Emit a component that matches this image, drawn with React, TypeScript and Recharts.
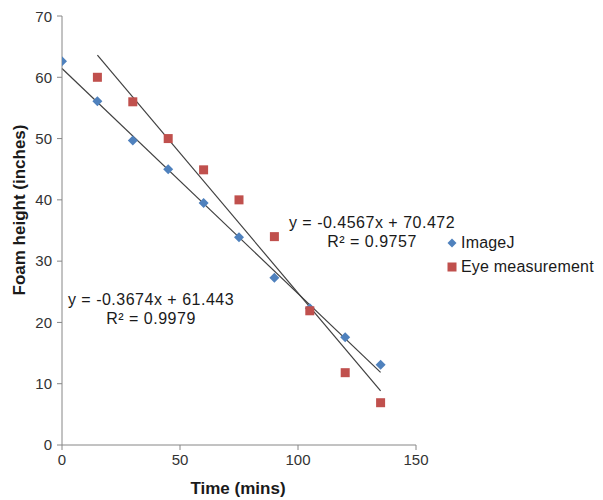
import React from "react";
import {
  ScatterChart,
  Scatter,
  XAxis,
  YAxis,
  ReferenceLine,
  Legend,
} from "recharts";

const imageJTimes = [0, 15, 30, 45, 60, 75, 90, 105, 120, 135];
const imageJHeights = [62.6, 56.1, 49.7, 45.0, 39.5, 33.9, 27.3, 22.3, 17.6, 13.1];
const eyeTimes = [15, 30, 45, 60, 75, 90, 105, 120, 135];
const eyeHeights = [60.0, 56.0, 50.0, 44.9, 40.0, 34.0, 21.9, 11.8, 6.9];

const xTicks = [0, 50, 100, 150];
const yTicks = [0, 10, 20, 30, 40, 50, 60, 70];

const imageJFit = { slope: -0.3674, intercept: 61.443, r2: 0.9979, from: 0, to: 135 };
const eyeFit = { slope: -0.4567, intercept: 70.472, r2: 0.9757, from: 15, to: 135 };

const imageJData = imageJTimes.map((t, i) => ({ x: t, y: imageJHeights[i] }));
const eyeData = eyeTimes.map((t, i) => ({ x: t, y: eyeHeights[i] }));

const BLUE = "#4F81BD";
const RED = "#C0504D";
const AXIS = "#868686";
const FONT = "'Liberation Sans', Arial, sans-serif";

const Diamond = (props: any) => {
  const { cx, cy } = props;
  const r = 5;
  return (
    <path
      d={`M${cx},${cy - r}L${cx + r},${cy}L${cx},${cy + r}L${cx - r},${cy}Z`}
      fill={BLUE}
    />
  );
};

const Square = (props: any) => {
  const { cx, cy } = props;
  const s = 9;
  return <rect x={cx - s / 2} y={cy - s / 2} width={s} height={s} fill={RED} />;
};

const seg = (f: typeof imageJFit) => [
  { x: f.from, y: f.slope * f.from + f.intercept },
  { x: f.to, y: f.slope * f.to + f.intercept },
];

const eqText = (f: typeof imageJFit) =>
  `y = ${f.slope.toFixed(4)}x + ${f.intercept.toFixed(3)}`;

const LegendContent = () => (
  <div
    style={{
      fontFamily: FONT,
      fontSize: 16,
      color: "#1a1a1a",
      letterSpacing: 0.2,
      whiteSpace: "nowrap",
    }}
  >
    <div style={{ display: "flex", alignItems: "center", height: 24 }}>
      <svg width={10} height={10} style={{ marginRight: 4 }}>
        <path d="M5,0.5L9.5,5L5,9.5L0.5,5Z" fill={BLUE} />
      </svg>
      <span>ImageJ</span>
    </div>
    <div style={{ display: "flex", alignItems: "center", height: 24 }}>
      <svg width={10} height={10} style={{ marginRight: 4 }}>
        <rect x={0.5} y={0.5} width={9} height={9} fill={RED} />
      </svg>
      <span>Eye measurement</span>
    </div>
  </div>
);

export default function App() {
  const W = 595;
  const H = 492;
  const textStyle = { fontFamily: FONT, fill: "#1a1a1a" } as const;
  return (
    <div style={{ position: "relative", width: W, height: H }}>
      <ScatterChart
        width={W}
        height={H}
        margin={{ top: 8, right: 187, bottom: 25, left: 14 }}
      >
        <XAxis
          type="number"
          dataKey="x"
          domain={[0, 150]}
          ticks={xTicks}
          height={30}
          stroke={AXIS}
          tickLine={{ stroke: AXIS }}
          tickSize={5}
          tickMargin={4}
          tick={{ fill: "#333", fontSize: 15, fontFamily: FONT }}
          allowDataOverflow
        />
        <YAxis
          type="number"
          dataKey="y"
          domain={[0, 70]}
          ticks={yTicks}
          width={40}
          stroke={AXIS}
          tickLine={{ stroke: AXIS }}
          tickSize={5}
          tickMargin={5}
          tick={{ fill: "#333", fontSize: 15, fontFamily: FONT }}
          allowDataOverflow
        />
        <ReferenceLine
          segment={seg(imageJFit)}
          stroke="#404040"
          strokeWidth={1.2}
          ifOverflow="visible"
        />
        <ReferenceLine
          segment={seg(eyeFit)}
          stroke="#404040"
          strokeWidth={1.2}
          ifOverflow="visible"
        />
        <Scatter
          name="ImageJ"
          data={imageJData}
          shape={<Diamond />}
          isAnimationActive={false}
        />
        <Scatter
          name="Eye measurement"
          data={eyeData}
          shape={<Square />}
          isAnimationActive={false}
        />
        <Legend
          layout="vertical"
          align="center"
          verticalAlign="middle"
          content={<LegendContent />}
          wrapperStyle={{ position: "absolute", left: 439, top: 223, width: 156 }}
        />
      </ScatterChart>
      <svg
        width={W}
        height={H}
        style={{ position: "absolute", left: 0, top: 0, pointerEvents: "none" }}
      >
        <text
          {...textStyle}
          x={364}
          y={220}
          fontSize={16}
          letterSpacing={0.5}
          textAnchor="middle"
        >
          {eqText(eyeFit)}
        </text>
        <text
          {...textStyle}
          x={364}
          y={239}
          fontSize={16}
          letterSpacing={0.5}
          textAnchor="middle"
        >
          {`R² = ${eyeFit.r2}`}
        </text>
        <text
          {...textStyle}
          x={143}
          y={297}
          fontSize={16}
          letterSpacing={0.5}
          textAnchor="middle"
        >
          {eqText(imageJFit)}
        </text>
        <text
          {...textStyle}
          x={143}
          y={316}
          fontSize={16}
          letterSpacing={0.5}
          textAnchor="middle"
        >
          {`R² = ${imageJFit.r2}`}
        </text>
        <text
          {...textStyle}
          x={230}
          y={486}
          fontSize={17}
          fontWeight="bold"
          textAnchor="middle"
        >
          Time (mins)
        </text>
        <text
          {...textStyle}
          x={0}
          y={0}
          fontSize={17}
          fontWeight="bold"
          textAnchor="middle"
          transform="translate(17,202) rotate(-90)"
        >
          Foam height (inches)
        </text>
      </svg>
    </div>
  );
}
